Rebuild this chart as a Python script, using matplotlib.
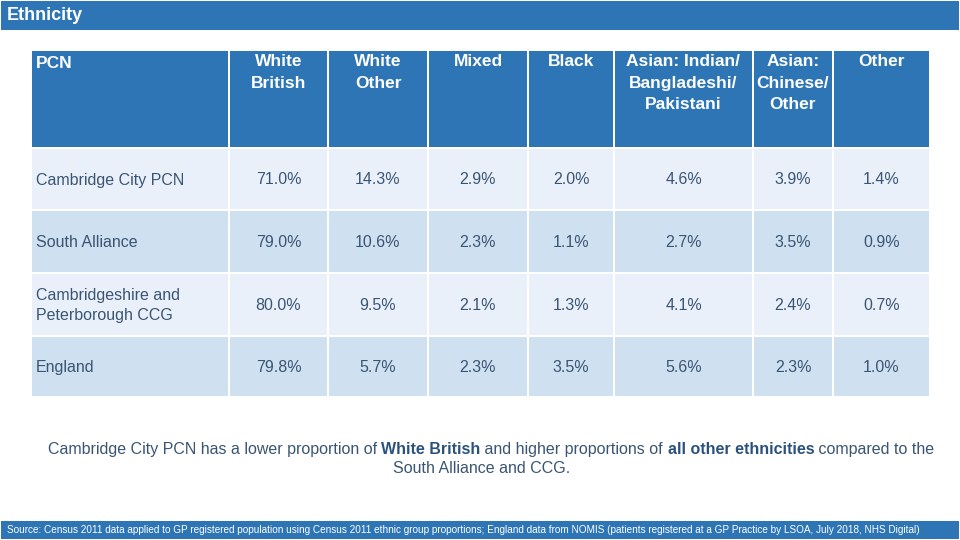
import matplotlib
matplotlib.use('Agg')
import matplotlib.pyplot as plt
from matplotlib.patches import Rectangle

## DATA ##
columns = ['PCN', 'White\nBritish', 'White\nOther', 'Mixed', 'Black',
           'Asian: Indian/\nBangladeshi/\nPakistani', 'Asian:\nChinese/\nOther', 'Other']
areas = ['Cambridge City PCN', 'South Alliance', 'Cambridgeshire and\nPeterborough CCG', 'England']
white_british = [71.0, 79.0, 80.0, 79.8]
white_other = [14.3, 10.6, 9.5, 5.7]
mixed = [2.9, 2.3, 2.1, 2.3]
black = [2.0, 1.1, 1.3, 3.5]
asian_ibp = [4.6, 2.7, 4.1, 5.6]
asian_co = [3.9, 3.5, 2.4, 2.3]
other = [1.4, 0.9, 0.7, 1.0]
values = [white_british, white_other, mixed, black, asian_ibp, asian_co, other]

title = 'Ethnicity'
source = ('Source: Census 2011 data applied to GP registered population using Census 2011 ethnic group '
          'proportions; England data from NOMIS (patients registered at a GP Practice by LSOA, July 2018, NHS Digital)')

## STYLE ##
blue = '#2E75B6'
light = '#EAF0FA'
dark = '#CFE0F1'
txt = '#3A5573'
plt.rcParams['font.family'] = ['Liberation Sans', 'DejaVu Sans']

col_x = [31, 229, 328, 428, 528, 614, 753, 833, 930]
row_y = [51, 148, 210, 273, 336, 397]
gap = 1.2

fig = plt.figure(figsize=(9.6, 5.4), dpi=100)
ax = fig.add_axes([0, 0, 1, 1])
ax.set_xlim(0, 960)
ax.set_ylim(540, 0)
ax.axis('off')

# title bar
ax.add_patch(Rectangle((1, 1), 958, 29, color=blue, lw=0))
ax.text(7, 15, title, color='white', fontsize=13, fontweight='bold', va='center', ha='left')

# header
for i, c in enumerate(columns):
    x0, x1 = col_x[i] + gap, col_x[i + 1] - gap
    ax.add_patch(Rectangle((x0, row_y[0]), x1 - x0, row_y[1] - row_y[0] - gap, color=blue, lw=0))
    if i == 0:
        ax.text(x0 + 4, row_y[0] + 13, c, color='white', fontsize=12.5, fontweight='bold',
                va='center', ha='left')
    else:
        ax.text((x0 + x1) / 2, row_y[0] + 3, c, color='white', fontsize=12.5, fontweight='bold',
                va='top', ha='center', linespacing=1.55)

# body
for r, area in enumerate(areas):
    y0, y1 = row_y[r + 1] + gap, row_y[r + 2] - gap
    fc = light if r % 2 == 0 else dark
    for i in range(len(columns)):
        x0, x1 = col_x[i] + gap, col_x[i + 1] - gap
        ax.add_patch(Rectangle((x0, y0), x1 - x0, y1 - y0, color=fc, lw=0))
    ax.text(col_x[0] + 5, (y0 + y1) / 2 + 1, area, color=txt, fontsize=11.5, va='center', ha='left',
            linespacing=1.4)
    for i, v in enumerate(values):
        x0, x1 = col_x[i + 1], col_x[i + 2]
        ax.text((x0 + x1) / 2, (y0 + y1) / 2 + 1, '{:.1f}%'.format(v[r]), color=txt, fontsize=11.5,
                va='center', ha='center')

# summary text with bold parts
pieces = [('Cambridge City PCN has a lower proportion of ', 'normal'),
          ('White British', 'bold'),
          (' and higher proportions of ', 'normal'),
          ('all other ethnicities', 'bold'),
          (' compared to the', 'normal')]
fig.canvas.draw()
rend = fig.canvas.get_renderer()
arts = []
for s, w in pieces:
    t = ax.text(0, 454, s, fontsize=11.5, fontweight=w, va='baseline', ha='left',
                color=txt if w == 'normal' else '#2B527F')
    arts.append(t)
widths = [a.get_window_extent(renderer=rend).width for a in arts]
total = sum(widths)
x = 491 - total / 2
for a, wd in zip(arts, widths):
    a.set_x(x)
    x += wd
ax.text(482, 473, 'South Alliance and CCG.', fontsize=11.5, color=txt, va='baseline', ha='center')

# source bar
ax.add_patch(Rectangle((1, 521), 958, 18, color=blue, lw=0))
ax.text(7, 530, source, color='white', fontsize=7.2, va='center', ha='left')

fig.savefig('out.png', dpi=100)
